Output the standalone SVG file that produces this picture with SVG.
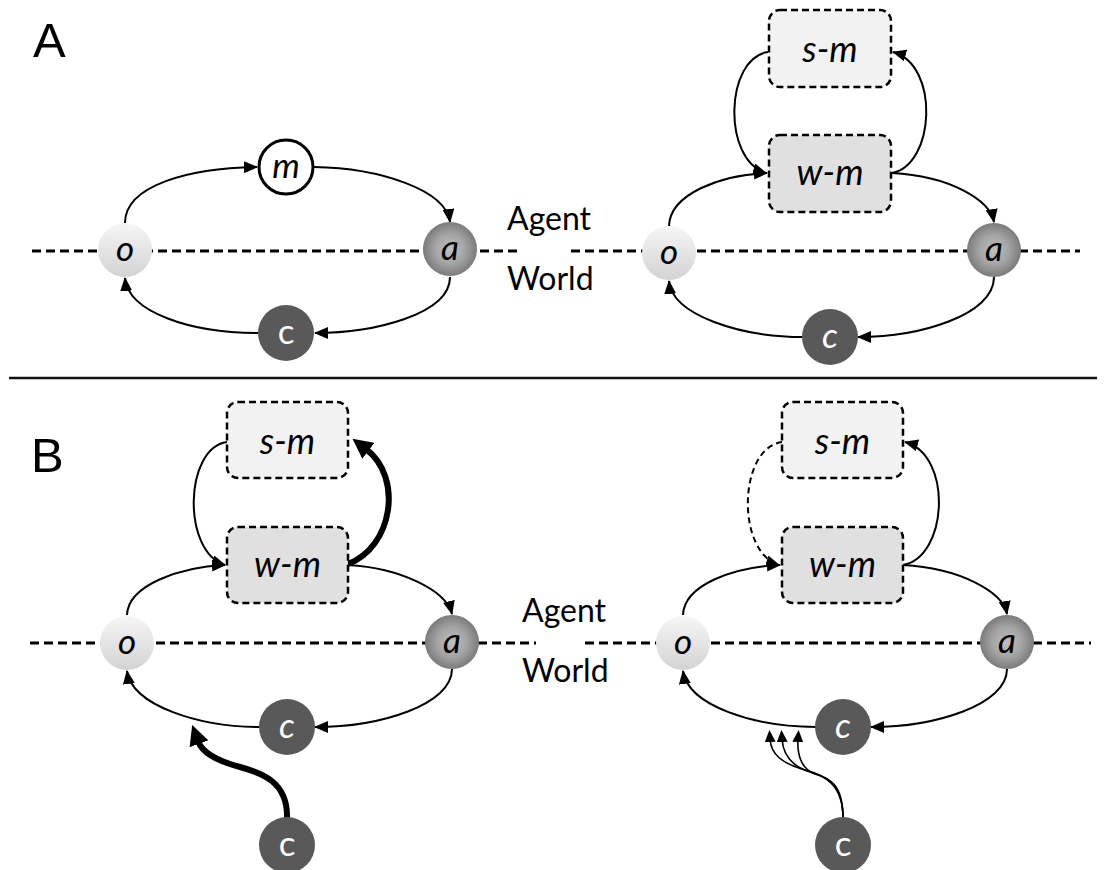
<svg xmlns="http://www.w3.org/2000/svg" width="1106" height="870" viewBox="0 0 1106 870">
  <style>
    .panel { font-family: "Liberation Sans", Arial, sans-serif; font-size: 49px; fill: #000; }
    .side { font-family: Lato, "Open Sans", sans-serif; font-size: 32px; fill: #000; }
    .lbl { font-family: Lato, "Open Sans", sans-serif; font-size: 35px; text-anchor: middle; fill: #000; }
    .it { font-style: italic; }
    .wt { fill: #fff; }
    .boxlbl { font-family: Lato, "Open Sans", sans-serif; font-size: 36px; font-style: italic; text-anchor: middle; fill: #000; }
    .nodeO { fill: url(#gradO); }
    .nodeA { fill: url(#gradA); }
    .nodeC { fill: #595959; }
    .nodeM { fill: #fff; stroke: #000; stroke-width: 3; }
    .sm { fill: #f2f2f2; stroke: #000; stroke-width: 2.5; stroke-dasharray: 7 4; }
    .wm { fill: #e0e0e0; stroke: #000; stroke-width: 2.5; stroke-dasharray: 7 4; }
    .border { stroke: #000; stroke-width: 3; stroke-dasharray: 9 5; fill: none; }
    .edge { fill: none; stroke: #000; stroke-width: 2; marker-end: url(#arrow); }
    .thin { fill: none; stroke: #000; stroke-width: 1.6; marker-end: url(#arrowS); }
    .dash { stroke-dasharray: 6 4; }
    .thick { fill: none; stroke: #000; stroke-width: 6; marker-end: url(#arrowL); }
  </style>
  <defs>
    <linearGradient id="gradO" x1="0" y1="0" x2="0" y2="1">
      <stop offset="0" stop-color="#f6f6f6"/>
      <stop offset="1" stop-color="#d3d3d3"/>
    </linearGradient>
    <radialGradient id="gradA" cx="0.5" cy="0.5" r="0.5">
      <stop offset="0" stop-color="#bfbfbf"/>
      <stop offset="0.55" stop-color="#a4a4a4"/>
      <stop offset="1" stop-color="#7b7b7b"/>
    </radialGradient>
    <marker id="arrow" markerUnits="userSpaceOnUse" markerWidth="14" markerHeight="12" refX="13" refY="6" orient="auto">
      <path d="M0,0 L14,6 L0,12 z" fill="#000"/>
    </marker>
    <marker id="arrowS" markerUnits="userSpaceOnUse" markerWidth="12" markerHeight="11" refX="3" refY="5.5" orient="auto">
      <path d="M0,0 L12,5.5 L0,11 z" fill="#000"/>
    </marker>
    <!-- heavy arrowhead: anchored at its base so the wide stroke stops behind the tip -->
    <marker id="arrowL" markerUnits="userSpaceOnUse" markerWidth="20" markerHeight="20" refX="3" refY="10" orient="auto">
      <path d="M0,0 L20,10 L0,20 z" fill="#000"/>
    </marker>
  </defs>

  <rect width="1106" height="870" fill="#fff"/>

  <!-- panel letters and Agent/World labels -->
  <text class="panel" x="33" y="57">A</text>
  <text class="panel" x="31" y="472">B</text>
  <text class="side" x="507" y="230">Agent</text>
  <text class="side" x="507" y="290">World</text>
  <text class="side" x="522" y="622">Agent</text>
  <text class="side" x="522" y="682">World</text>

  <!-- separator between panels -->
  <line x1="9" y1="378" x2="1097" y2="378" stroke="#111" stroke-width="2.5"/>

  <!-- agent / world boundaries -->
  <g id="boundaries">
    <line class="border" x1="32" y1="251" x2="520" y2="251"/>
    <line class="border" x1="571" y1="251" x2="1080" y2="251"/>
    <line class="border" x1="30" y1="643" x2="536" y2="643"/>
    <line class="border" x1="585" y1="643" x2="1091" y2="643"/>
  </g>

  <g id="connectors">
    <!-- A, left loop -->
    <path class="edge" d="M125,223 C125,185 190,168 257,167"/>
    <path class="edge" d="M314,167 C380,168 446,190 450,222"/>
    <path class="edge" d="M450,277 C450,315 372,333 315,333"/>
    <path class="edge" d="M258,333 C190,333 128,312 125,278"/>
    <!-- A, right loop -->
    <path class="edge" d="M669,226 C670,194 720,175 767,173"/>
    <path class="edge" d="M892,173 C950,176 990,200 994,222"/>
    <path class="edge" d="M768,52 C725,58 722,160 766,173"/>
    <path class="edge" d="M892,173 C935,165 940,65 893,52"/>
    <path class="edge" d="M994,277 C994,315 920,337 858,337"/>
    <path class="edge" d="M803,337 C740,337 672,315 669,281"/>
    <!-- B, left loop -->
    <path class="edge" d="M127,615 C128,585 180,567 225,565"/>
    <path class="edge" d="M348,565 C400,568 446,590 452,614"/>
    <path class="edge" d="M227,442 C184,448 182,552 225,565"/>
    <path class="thick" d="M348,564 C392,548 404,478 366,449"/>
    <path class="edge" d="M452,669 C452,705 380,727 315,727"/>
    <path class="edge" d="M260,727 C200,727 132,706 127,671"/>
    <path class="thick" d="M287,818 C288,782 262,773 240,767 C214,760 202,752 198,741"/>
    <!-- B, right loop -->
    <path class="edge" d="M683,615 C684,585 733,567 780,565"/>
    <path class="edge" d="M903,565 C960,568 1003,592 1007,614"/>
    <path class="edge dash" d="M782,442 C738,448 736,552 779,565"/>
    <path class="edge" d="M903,565 C948,557 953,455 905,442"/>
    <path class="edge" d="M1007,669 C1007,705 935,727 871,727"/>
    <path class="edge" d="M816,727 C755,727 688,706 683,671"/>
    <path class="thin" d="M843,818 C843,785 825,775 805,770 C781,763 771,754 770,739"/>
    <path class="thin" d="M843,818 C843,785 828,777 810,772 C791,766 783,754 782,739"/>
    <path class="thin" d="M843,818 C843,785 830,778 815,774 C801,769 797,754 798,739"/>
  </g>

  <!-- A, left -->
  <g id="a-left-o"><circle class="nodeO" cx="125" cy="250" r="27"/><text class="lbl it" x="125" y="261">o</text></g>
  <g id="a-left-m"><circle class="nodeM" cx="286" cy="167" r="27"/><text class="lbl it" x="286" y="178">m</text></g>
  <g id="a-left-a"><circle class="nodeA" cx="450" cy="249" r="27"/><text class="lbl it" x="450" y="260">a</text></g>
  <g id="a-left-c"><circle class="nodeC" cx="286" cy="333" r="28"/><text class="lbl wt" x="286" y="344">c</text></g>

  <!-- A, right -->
  <g id="a-right-sm"><rect class="sm" x="769" y="10" width="122" height="77" rx="11"/><text class="boxlbl" x="830" y="62">s-m</text></g>
  <g id="a-right-wm"><rect class="wm" x="769" y="135" width="122" height="77" rx="11"/><text class="boxlbl" x="830" y="185">w-m</text></g>
  <g id="a-right-o"><circle class="nodeO" cx="669" cy="253" r="27"/><text class="lbl it" x="669" y="264">o</text></g>
  <g id="a-right-a"><circle class="nodeA" cx="994" cy="250" r="27"/><text class="lbl it" x="994" y="261">a</text></g>
  <g id="a-right-c"><circle class="nodeC" cx="830" cy="337" r="28"/><text class="lbl it wt" x="830" y="348">c</text></g>

  <!-- B, left -->
  <g id="b-left-sm"><rect class="sm" x="227" y="402" width="121" height="76" rx="11"/><text class="boxlbl" x="287.5" y="454">s-m</text></g>
  <g id="b-left-wm"><rect class="wm" x="227" y="527" width="121" height="76" rx="11"/><text class="boxlbl" x="287.5" y="577">w-m</text></g>
  <g id="b-left-o"><circle class="nodeO" cx="127" cy="643" r="27"/><text class="lbl it" x="127" y="654">o</text></g>
  <g id="b-left-a"><circle class="nodeA" cx="452" cy="642" r="27"/><text class="lbl it" x="452" y="653">a</text></g>
  <g id="b-left-c"><circle class="nodeC" cx="287" cy="727" r="28"/><text class="lbl it wt" x="287" y="738">c</text></g>
  <g id="b-left-c2"><circle class="nodeC" cx="287" cy="845" r="28"/><text class="lbl wt" x="287" y="856">c</text></g>

  <!-- B, right -->
  <g id="b-right-sm"><rect class="sm" x="782" y="402" width="121" height="76" rx="11"/><text class="boxlbl" x="842.5" y="454">s-m</text></g>
  <g id="b-right-wm"><rect class="wm" x="782" y="527" width="121" height="76" rx="11"/><text class="boxlbl" x="842.5" y="577">w-m</text></g>
  <g id="b-right-o"><circle class="nodeO" cx="683" cy="643" r="27"/><text class="lbl it" x="683" y="654">o</text></g>
  <g id="b-right-a"><circle class="nodeA" cx="1007" cy="642" r="27"/><text class="lbl it" x="1007" y="653">a</text></g>
  <g id="b-right-c"><circle class="nodeC" cx="843" cy="727" r="28"/><text class="lbl it wt" x="843" y="738">c</text></g>
  <g id="b-right-c2"><circle class="nodeC" cx="843" cy="845" r="28"/><text class="lbl wt" x="843" y="856">c</text></g>
</svg>
